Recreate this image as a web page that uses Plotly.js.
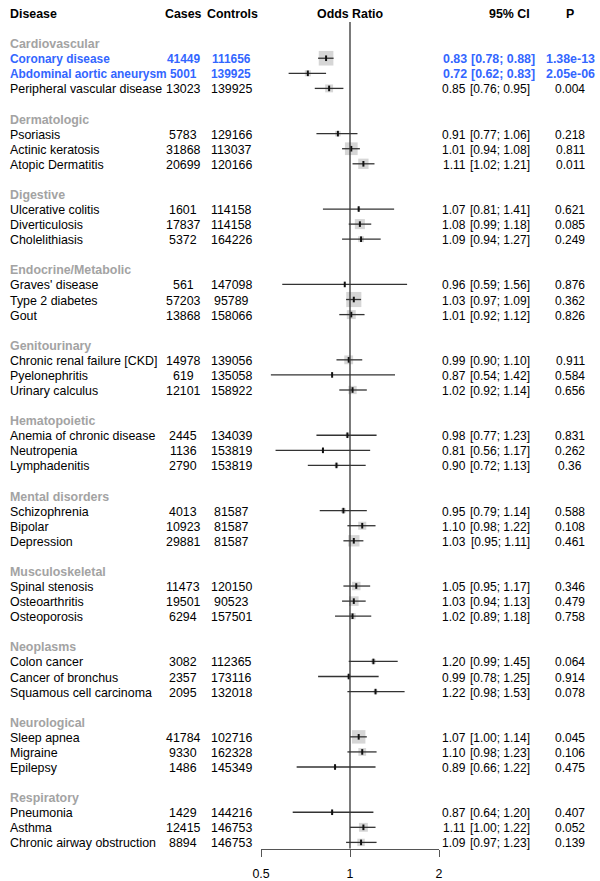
<!DOCTYPE html>
<html>
<head>
<meta charset="utf-8">
<script src="https://cdn.plot.ly/plotly-3.0.1.min.js"></script>
<style>html,body{margin:0;padding:0;background:#fff;}#chart{width:600px;height:881px;}</style>
</head>
<body>
<div id="chart"></div>
<script>
// ---------------- data ----------------
const groups = ["Cardiovascular","Dermatologic","Digestive","Endocrine/Metabolic","Genitourinary",
  "Hematopoietic","Mental disorders","Musculoskeletal","Neoplasms","Neurological","Respiratory"];
const groupIndex = [0,0,0,1,1,1,2,2,2,3,3,3,4,4,4,5,5,5,6,6,6,7,7,7,8,8,8,9,9,9,10,10,10];
const diseases = ["Coronary disease","Abdominal aortic aneurysm","Peripheral vascular disease",
  "Psoriasis","Actinic keratosis","Atopic Dermatitis",
  "Ulcerative colitis","Diverticulosis","Cholelithiasis",
  "Graves' disease","Type 2 diabetes","Gout",
  "Chronic renal failure [CKD]","Pyelonephritis","Urinary calculus",
  "Anemia of chronic disease","Neutropenia","Lymphadenitis",
  "Schizophrenia","Bipolar","Depression",
  "Spinal stenosis","Osteoarthritis","Osteoporosis",
  "Colon cancer","Cancer of bronchus","Squamous cell carcinoma",
  "Sleep apnea","Migraine","Epilepsy",
  "Pneumonia","Asthma","Chronic airway obstruction"];
const cases = [41449,5001,13023,5783,31868,20699,1601,17837,5372,561,57203,13868,14978,619,12101,
  2445,1136,2790,4013,10923,29881,11473,19501,6294,3082,2357,2095,41784,9330,1486,1429,12415,8894];
const controls = [111656,139925,139925,129166,113037,120166,114158,114158,164226,147098,95789,158066,
  139056,135058,158922,134039,153819,153819,81587,81587,81587,120150,90523,157501,112365,173116,132018,
  102716,162328,145349,144216,146753,146753];
const oddsRatio = [0.83,0.72,0.85,0.91,1.01,1.11,1.07,1.08,1.09,0.96,1.03,1.01,0.99,0.87,1.02,
  0.98,0.81,0.90,0.95,1.10,1.03,1.05,1.03,1.02,1.20,0.99,1.22,1.07,1.10,0.89,0.87,1.11,1.09];
const ciLower = [0.78,0.62,0.76,0.77,0.94,1.02,0.81,0.99,0.94,0.59,0.97,0.92,0.90,0.54,0.92,
  0.77,0.56,0.72,0.79,0.98,0.95,0.95,0.94,0.89,0.99,0.78,0.98,1.00,0.98,0.66,0.64,1.00,0.97];
const ciUpper = [0.88,0.83,0.95,1.06,1.08,1.21,1.41,1.18,1.27,1.56,1.09,1.12,1.10,1.42,1.14,
  1.23,1.17,1.13,1.14,1.22,1.11,1.17,1.13,1.18,1.45,1.25,1.53,1.14,1.23,1.22,1.20,1.22,1.23];
const pValues = ["1.38e-13","2.05e-06","0.004","0.218","0.811","0.011","0.621","0.085","0.249",
  "0.876","0.362","0.826","0.911","0.584","0.656","0.831","0.262","0.36","0.588","0.108","0.461",
  "0.346","0.479","0.758","0.064","0.914","0.078","0.045","0.106","0.475","0.407","0.052","0.139"];
const significant = [true,true,false,false,false,false,false,false,false,false,false,false,false,false,false,
  false,false,false,false,false,false,false,false,false,false,false,false,false,false,false,false,false,false];
const headers = ["Disease","Cases","Controls","Odds Ratio","95% CI","P"];
const tickVals = [0.5,1,2];
const tickText = ["0.5","1","2"];

// ---------------- layout helpers ----------------
const W = 600;
const FONT = "Liberation Sans, Arial, Helvetica, sans-serif";
const FS = 12.4;
const FS_R = 12;
const FS_HI = 11.9;
const BLUE = "#3366ff";
const GREY = "#a3a3a3";
const px = v => v / W;

const withinIdx = [];
const counter = {};
groupIndex.forEach((g) => { counter[g] = (counter[g] || 0); withinIdx.push(counter[g]); counter[g]++; });
const rowSlot = groupIndex.map((g, i) => 3 + 5 * g + withinIdx[i]);
const groupSlot = groups.map((_, g) => 2 + 5 * g);
const TXT_SHIFT = 0.07;

const ann = [];
function addText(text, xPix, slot, anchor, opts) {
  opts = opts || {};
  ann.push({
    text: text, xref: "paper", yref: "y", x: px(xPix), y: slot + TXT_SHIFT,
    xanchor: anchor, yanchor: "middle", showarrow: false,
    font: {family: FONT, size: opts.size || FS, color: opts.color || "#000", weight: opts.bold ? "bold" : "normal"}
  });
}
addText(headers[0], 8, 0, "left", {bold: true});
addText(headers[1], 183, 0, "center", {bold: true});
addText(headers[2], 233, 0, "center", {bold: true});
addText(headers[3], 350, 0, "center", {bold: true});
addText(headers[4], 532, 0, "right", {bold: true});
addText(headers[5], 570, 0, "center", {bold: true});

groups.forEach((g, gi) => addText(g, 8, groupSlot[gi], "left", {bold: true, color: GREY}));

diseases.forEach((d, i) => {
  const hi = significant[i];
  const o = hi ? {bold: true, color: BLUE, size: FS_HI} : {color: "#000"};
  const oR = hi ? {bold: true, color: BLUE, size: FS} : {color: "#000", size: FS_R};
  const s = rowSlot[i];
  addText(d, 8, s, "left", o);
  addText(String(cases[i]), 183, s, "center", o);
  addText(String(controls[i]), 231, s, "center", o);
  addText(oddsRatio[i].toFixed(2), hi ? 469 : 468, s, "right", oR);
  addText("[" + ciLower[i].toFixed(2) + "; " + ciUpper[i].toFixed(2) + "]", hi ? 537 : 531.5, s, "right", oR);
  addText(pValues[i], 570, s, "center", oR);
});

// box size ~ inverse standard error (derived from the CI)
const boxSize = ciLower.map((l, i) => 0.45 * 3.92 / Math.log(ciUpper[i] / l));

const ciX = [], ciY = [];
diseases.forEach((_, i) => { ciX.push(ciLower[i], ciUpper[i], null); ciY.push(rowSlot[i], rowSlot[i], null); });

const traces = [
  {type: "scatter", mode: "markers", x: oddsRatio, y: rowSlot, hoverinfo: "skip",
   marker: {symbol: "square", size: boxSize, color: "#c4c4c4", line: {width: 0}}},
  {type: "scatter", mode: "lines", x: ciX, y: ciY, hoverinfo: "skip", connectgaps: false,
   line: {color: "#333333", width: 1.3}},
  {type: "scatter", mode: "markers", x: oddsRatio, y: rowSlot, hoverinfo: "skip",
   marker: {symbol: "line-ns", size: 4, line: {color: "#111", width: 2}}}
];

const axisSlot = 55.4;
const layout = {
  width: 600, height: 881,
  margin: {l: 0, r: 0, t: 0, b: 0},
  paper_bgcolor: "#fff", plot_bgcolor: "rgba(0,0,0,0)",
  showlegend: false,
  xaxis: {
    type: "log", range: [Math.log10(0.5), Math.log10(2)],
    domain: [261 / W, 439 / W], anchor: "free", position: 1 - 849 / 881,
    showgrid: false, zeroline: false, showline: true, linecolor: "#555", linewidth: 1,
    ticks: "outside", ticklen: 7, tickcolor: "#555", tickwidth: 1,
    ticklabelstandoff: 6,
    tickvals: tickVals, ticktext: tickText,
    tickfont: {family: FONT, size: FS, color: "#000"}, fixedrange: true
  },
  yaxis: {
    range: [57.56, -0.862], domain: [0, 1], visible: false, showgrid: false, zeroline: false, fixedrange: true
  },
  shapes: [
    {type: "line", xref: "x", yref: "y", x0: 1, x1: 1, y0: 0.6, y1: axisSlot, layer: "above",
     line: {color: "#333", width: 1.3}}
  ],
  annotations: ann
};

Plotly.newPlot("chart", traces, layout, {staticPlot: true, displayModeBar: false});
</script>
</body>
</html>
